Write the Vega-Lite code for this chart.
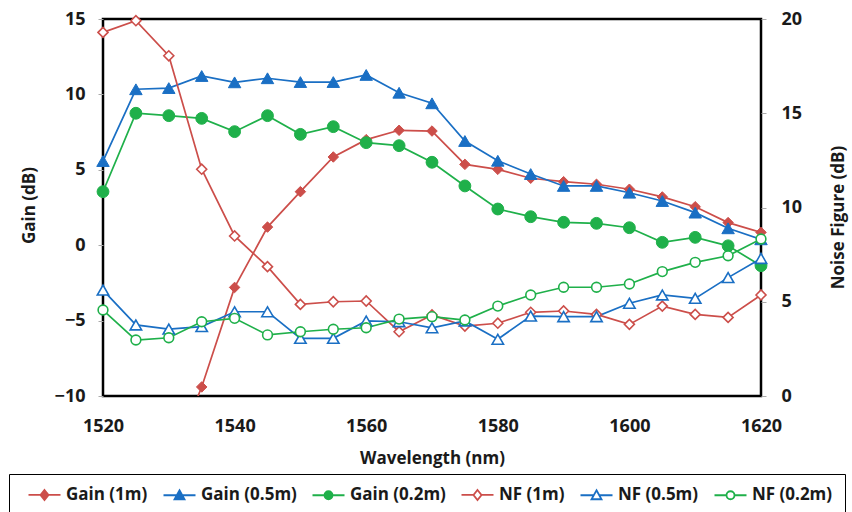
{
  "$schema": "https://vega.github.io/schema/vega-lite/v6.json",
  "width": 658,
  "height": 377,
  "autosize": "none",
  "padding": {"left": 103, "top": 19, "right": 91, "bottom": 116},
  "background": "white",
  "config": {
    "view": {"stroke": "black", "strokeWidth": 2.5},
    "font": "Open Sans",
    "axis": {
      "labelFont": "Open Sans", "labelFontWeight": "bold", "labelFontSize": 18, "labelColor": "#1a1a1a",
      "titleFont": "Open Sans", "titleFontWeight": "bold", "titleFontSize": 17, "titleColor": "#1a1a1a",
      "grid": false, "domain": false, "tickColor": "#aaaaaa", "tickSize": 5, "tickWidth": 1,
      "labelFlush": false, "labelOverlap": false
    },
    "legend": {
      "labelFont": "Open Sans", "labelFontWeight": "bold", "labelFontSize": 17, "labelColor": "#1a1a1a",
      "symbolStrokeWidth": 1.8, "symbolSize": 100
    }
  },
  "datasets": {
    "d": [
      {"wl": 1530, "series": "Gain (1m)", "v": -14.8},
      {"wl": 1535, "series": "Gain (1m)", "v": -9.4},
      {"wl": 1540, "series": "Gain (1m)", "v": -2.8},
      {"wl": 1545, "series": "Gain (1m)", "v": 1.2},
      {"wl": 1550, "series": "Gain (1m)", "v": 3.55},
      {"wl": 1555, "series": "Gain (1m)", "v": 5.85},
      {"wl": 1560, "series": "Gain (1m)", "v": 7.0},
      {"wl": 1565, "series": "Gain (1m)", "v": 7.62},
      {"wl": 1570, "series": "Gain (1m)", "v": 7.57},
      {"wl": 1575, "series": "Gain (1m)", "v": 5.36},
      {"wl": 1580, "series": "Gain (1m)", "v": 5.03},
      {"wl": 1585, "series": "Gain (1m)", "v": 4.44},
      {"wl": 1590, "series": "Gain (1m)", "v": 4.21},
      {"wl": 1595, "series": "Gain (1m)", "v": 4.04},
      {"wl": 1600, "series": "Gain (1m)", "v": 3.71},
      {"wl": 1605, "series": "Gain (1m)", "v": 3.2},
      {"wl": 1610, "series": "Gain (1m)", "v": 2.55},
      {"wl": 1615, "series": "Gain (1m)", "v": 1.5},
      {"wl": 1620, "series": "Gain (1m)", "v": 0.85},

      {"wl": 1520, "series": "Gain (0.5m)", "v": 5.58},
      {"wl": 1525, "series": "Gain (0.5m)", "v": 10.34},
      {"wl": 1530, "series": "Gain (0.5m)", "v": 10.42},
      {"wl": 1535, "series": "Gain (0.5m)", "v": 11.22},
      {"wl": 1540, "series": "Gain (0.5m)", "v": 10.8},
      {"wl": 1545, "series": "Gain (0.5m)", "v": 11.07},
      {"wl": 1550, "series": "Gain (0.5m)", "v": 10.82},
      {"wl": 1555, "series": "Gain (0.5m)", "v": 10.82},
      {"wl": 1560, "series": "Gain (0.5m)", "v": 11.29},
      {"wl": 1565, "series": "Gain (0.5m)", "v": 10.11},
      {"wl": 1570, "series": "Gain (0.5m)", "v": 9.41},
      {"wl": 1575, "series": "Gain (0.5m)", "v": 6.91},
      {"wl": 1580, "series": "Gain (0.5m)", "v": 5.6},
      {"wl": 1585, "series": "Gain (0.5m)", "v": 4.72},
      {"wl": 1590, "series": "Gain (0.5m)", "v": 3.93},
      {"wl": 1595, "series": "Gain (0.5m)", "v": 3.93},
      {"wl": 1600, "series": "Gain (0.5m)", "v": 3.48},
      {"wl": 1605, "series": "Gain (0.5m)", "v": 2.93},
      {"wl": 1610, "series": "Gain (0.5m)", "v": 2.16},
      {"wl": 1615, "series": "Gain (0.5m)", "v": 1.12},
      {"wl": 1620, "series": "Gain (0.5m)", "v": 0.39},

      {"wl": 1520, "series": "Gain (0.2m)", "v": 3.55},
      {"wl": 1525, "series": "Gain (0.2m)", "v": 8.75},
      {"wl": 1530, "series": "Gain (0.2m)", "v": 8.59},
      {"wl": 1535, "series": "Gain (0.2m)", "v": 8.41},
      {"wl": 1540, "series": "Gain (0.2m)", "v": 7.53},
      {"wl": 1545, "series": "Gain (0.2m)", "v": 8.59},
      {"wl": 1550, "series": "Gain (0.2m)", "v": 7.35},
      {"wl": 1555, "series": "Gain (0.2m)", "v": 7.86},
      {"wl": 1560, "series": "Gain (0.2m)", "v": 6.8},
      {"wl": 1565, "series": "Gain (0.2m)", "v": 6.6},
      {"wl": 1570, "series": "Gain (0.2m)", "v": 5.5},
      {"wl": 1575, "series": "Gain (0.2m)", "v": 3.93},
      {"wl": 1580, "series": "Gain (0.2m)", "v": 2.4},
      {"wl": 1585, "series": "Gain (0.2m)", "v": 1.89},
      {"wl": 1590, "series": "Gain (0.2m)", "v": 1.52},
      {"wl": 1595, "series": "Gain (0.2m)", "v": 1.45},
      {"wl": 1600, "series": "Gain (0.2m)", "v": 1.16},
      {"wl": 1605, "series": "Gain (0.2m)", "v": 0.19},
      {"wl": 1610, "series": "Gain (0.2m)", "v": 0.52},
      {"wl": 1615, "series": "Gain (0.2m)", "v": -0.04},
      {"wl": 1620, "series": "Gain (0.2m)", "v": -1.36},

      {"wl": 1520, "series": "NF (1m)", "v": 19.29},
      {"wl": 1525, "series": "NF (1m)", "v": 19.91},
      {"wl": 1530, "series": "NF (1m)", "v": 18.05},
      {"wl": 1535, "series": "NF (1m)", "v": 12.03},
      {"wl": 1540, "series": "NF (1m)", "v": 8.49},
      {"wl": 1545, "series": "NF (1m)", "v": 6.86},
      {"wl": 1550, "series": "NF (1m)", "v": 4.86},
      {"wl": 1555, "series": "NF (1m)", "v": 5.0},
      {"wl": 1560, "series": "NF (1m)", "v": 5.04},
      {"wl": 1565, "series": "NF (1m)", "v": 3.41},
      {"wl": 1570, "series": "NF (1m)", "v": 4.3},
      {"wl": 1575, "series": "NF (1m)", "v": 3.71},
      {"wl": 1580, "series": "NF (1m)", "v": 3.86},
      {"wl": 1585, "series": "NF (1m)", "v": 4.44},
      {"wl": 1590, "series": "NF (1m)", "v": 4.51},
      {"wl": 1595, "series": "NF (1m)", "v": 4.33},
      {"wl": 1600, "series": "NF (1m)", "v": 3.8},
      {"wl": 1605, "series": "NF (1m)", "v": 4.77},
      {"wl": 1610, "series": "NF (1m)", "v": 4.33},
      {"wl": 1615, "series": "NF (1m)", "v": 4.17},
      {"wl": 1620, "series": "NF (1m)", "v": 5.36},

      {"wl": 1520, "series": "NF (0.5m)", "v": 5.62},
      {"wl": 1525, "series": "NF (0.5m)", "v": 3.77},
      {"wl": 1530, "series": "NF (0.5m)", "v": 3.55},
      {"wl": 1535, "series": "NF (0.5m)", "v": 3.68},
      {"wl": 1540, "series": "NF (0.5m)", "v": 4.47},
      {"wl": 1545, "series": "NF (0.5m)", "v": 4.47},
      {"wl": 1550, "series": "NF (0.5m)", "v": 3.06},
      {"wl": 1555, "series": "NF (0.5m)", "v": 3.06},
      {"wl": 1560, "series": "NF (0.5m)", "v": 3.98},
      {"wl": 1565, "series": "NF (0.5m)", "v": 3.94},
      {"wl": 1570, "series": "NF (0.5m)", "v": 3.62},
      {"wl": 1575, "series": "NF (0.5m)", "v": 3.98},
      {"wl": 1580, "series": "NF (0.5m)", "v": 3.01},
      {"wl": 1585, "series": "NF (0.5m)", "v": 4.24},
      {"wl": 1590, "series": "NF (0.5m)", "v": 4.21},
      {"wl": 1595, "series": "NF (0.5m)", "v": 4.21},
      {"wl": 1600, "series": "NF (0.5m)", "v": 4.92},
      {"wl": 1605, "series": "NF (0.5m)", "v": 5.36},
      {"wl": 1610, "series": "NF (0.5m)", "v": 5.18},
      {"wl": 1615, "series": "NF (0.5m)", "v": 6.28},
      {"wl": 1620, "series": "NF (0.5m)", "v": 7.3},

      {"wl": 1520, "series": "NF (0.2m)", "v": 4.56},
      {"wl": 1525, "series": "NF (0.2m)", "v": 2.97},
      {"wl": 1530, "series": "NF (0.2m)", "v": 3.09},
      {"wl": 1535, "series": "NF (0.2m)", "v": 3.94},
      {"wl": 1540, "series": "NF (0.2m)", "v": 4.12},
      {"wl": 1545, "series": "NF (0.2m)", "v": 3.24},
      {"wl": 1550, "series": "NF (0.2m)", "v": 3.41},
      {"wl": 1555, "series": "NF (0.2m)", "v": 3.54},
      {"wl": 1560, "series": "NF (0.2m)", "v": 3.62},
      {"wl": 1565, "series": "NF (0.2m)", "v": 4.08},
      {"wl": 1570, "series": "NF (0.2m)", "v": 4.21},
      {"wl": 1575, "series": "NF (0.2m)", "v": 4.03},
      {"wl": 1580, "series": "NF (0.2m)", "v": 4.77},
      {"wl": 1585, "series": "NF (0.2m)", "v": 5.36},
      {"wl": 1590, "series": "NF (0.2m)", "v": 5.77},
      {"wl": 1595, "series": "NF (0.2m)", "v": 5.77},
      {"wl": 1600, "series": "NF (0.2m)", "v": 5.94},
      {"wl": 1605, "series": "NF (0.2m)", "v": 6.6},
      {"wl": 1610, "series": "NF (0.2m)", "v": 7.09},
      {"wl": 1615, "series": "NF (0.2m)", "v": 7.44},
      {"wl": 1620, "series": "NF (0.2m)", "v": 8.33}
    ]
  },
  "data": {"name": "d"},
  "encoding": {
    "x": {
      "field": "wl", "type": "quantitative",
      "scale": {"domain": [1520, 1620], "nice": false, "zero": false},
      "axis": {"values": [1520, 1540, 1560, 1580, 1600, 1620], "format": "d", "title": "Wavelength (nm)", "ticks": false, "labelPadding": 21, "titleX": 329, "titleY": 62, "titleBaseline": "middle", "titleAnchor": "middle"}
    },
    "stroke": {
      "field": "series", "type": "nominal",
      "scale": {"domain": ["Gain (1m)", "Gain (0.5m)", "Gain (0.2m)", "NF (1m)", "NF (0.5m)", "NF (0.2m)"], "range": ["#cc4e4a", "#1a6fc4", "#1fb04a", "#cc4e4a", "#1a6fc4", "#1fb04a"]},
      "legend": {
        "orient": "none", "legendX": -94, "legendY": 455, "direction": "horizontal", "title": null,
        "strokeColor": "black", "padding": 12, "labelOffset": 13, "columnPadding": 8, "symbolOffset": 15,
        "encode": {"legend": {"update": {"strokeWidth": {"value": 2}}}}
      }
    }
  },
  "layer": [
    {
      "transform": [{"filter": "indexof(datum.series, 'Gain') == 0"}],
      "encoding": {
        "y": {
          "field": "v", "type": "quantitative",
          "scale": {"domain": [-10, 15], "nice": false, "zero": false},
          "axis": {"orient": "left", "values": [-10, -5, 0, 5, 10, 15], "title": "Gain (dB)", "labelPadding": 13, "titleX": -74, "titleY": 186, "titleAngle": -90, "titleBaseline": "middle", "titleAnchor": "middle"}
        },
        "fill": {"field": "series", "type": "nominal", "scale": {"domain": ["Gain (1m)", "Gain (0.5m)", "Gain (0.2m)", "NF (1m)", "NF (0.5m)", "NF (0.2m)"], "range": ["#cc4e4a", "#1a6fc4", "#1fb04a", "white", "white", "white"]}}
      },
      "layer": [
        {"mark": {"type": "line", "strokeWidth": 1.7, "clip": true}, "encoding": {"detail": {"field": "series"}, "fill": {"value": null}}},
        {"transform": [{"filter": "datum.series == 'Gain (1m)' && datum.v >= -10"}], "mark": {"type": "point", "shape": "diamond", "filled": false, "opacity": 1, "size": 110, "strokeWidth": 1}},
        {"transform": [{"filter": "datum.series == 'Gain (0.5m)'"}], "mark": {"type": "point", "shape": "triangle-up", "filled": false, "opacity": 1, "size": 155, "strokeWidth": 1}},
        {"transform": [{"filter": "datum.series == 'Gain (0.2m)'"}], "mark": {"type": "point", "shape": "circle", "filled": false, "opacity": 1, "size": 140, "strokeWidth": 1}},
        {
          "transform": [{"filter": "false"}],
          "mark": {"type": "point", "filled": false, "opacity": 1},
          "encoding": {
            "shape": {"field": "series", "type": "nominal", "scale": {"domain": ["Gain (1m)", "Gain (0.5m)", "Gain (0.2m)", "NF (1m)", "NF (0.5m)", "NF (0.2m)"], "range": [
              "M-3.2,0H-0.8M0.8,0H3.2M0,-1L0.8,0L0,1L-0.8,0Z",
              "M-3.2,0H-0.56M0.56,0H3.2M0,-1L1,0.8L-1,0.8Z",
              "M-3.2,0H-0.8M0.8,0H3.2M-0.8,0A0.8,0.8 0 1,0 0.8,0A0.8,0.8 0 1,0 -0.8,0Z",
              "M-3.2,0H-0.8M0.8,0H3.2M0,-1L0.8,0L0,1L-0.8,0Z",
              "M-3.2,0H-0.56M0.56,0H3.2M0,-1L1,0.8L-1,0.8Z",
              "M-3.2,0H-0.8M0.8,0H3.2M-0.8,0A0.8,0.8 0 1,0 0.8,0A0.8,0.8 0 1,0 -0.8,0Z"
            ]}}
          }
        }
      ]
    },
    {
      "transform": [{"filter": "indexof(datum.series, 'NF') == 0"}],
      "encoding": {
        "y": {
          "field": "v", "type": "quantitative",
          "scale": {"domain": [0, 20], "nice": false, "zero": false},
          "axis": {"orient": "right", "values": [0, 5, 10, 15, 20], "title": "Noise Figure (dB)", "labelPadding": 15, "titleX": 77, "titleY": 198, "titleAngle": -90, "titleBaseline": "middle", "titleAnchor": "middle"}
        },
        "fill": {"field": "series", "type": "nominal"}
      },
      "layer": [
        {"mark": {"type": "line", "strokeWidth": 1.7}, "encoding": {"detail": {"field": "series"}, "fill": {"value": null}}},
        {"transform": [{"filter": "datum.series == 'NF (1m)'"}], "mark": {"type": "point", "shape": "diamond", "filled": false, "opacity": 1, "size": 100, "strokeWidth": 1.6}},
        {"transform": [{"filter": "datum.series == 'NF (0.5m)'"}], "mark": {"type": "point", "shape": "triangle-up", "filled": false, "opacity": 1, "size": 130, "strokeWidth": 1.6}},
        {"transform": [{"filter": "datum.series == 'NF (0.2m)'"}], "mark": {"type": "point", "shape": "circle", "filled": false, "opacity": 1, "size": 95, "strokeWidth": 1.6}}
      ]
    }
  ],
  "resolve": {"scale": {"y": "independent"}}
}
